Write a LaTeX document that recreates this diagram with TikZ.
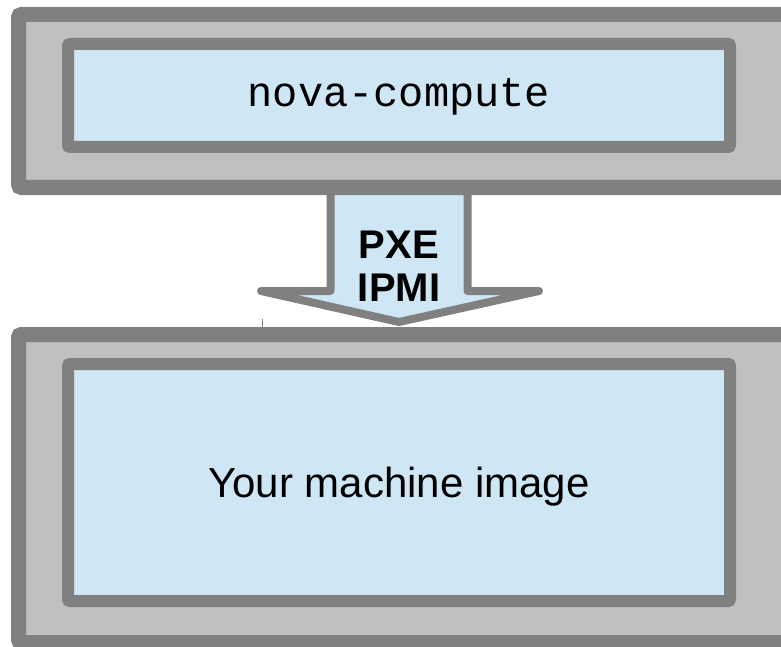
\documentclass[tikz,border=0pt]{standalone}
\usepackage{fontspec}
\setmainfont{Liberation Sans}
\setmonofont{Liberation Mono}
\usetikzlibrary{calc}
\definecolor{framegray}{HTML}{808080}
\definecolor{panelgray}{HTML}{C0C0C0}
\definecolor{paleblue}{HTML}{CFE6F4}

\begin{document}
\begin{tikzpicture}[x=1pt, y=-1pt,
    outerbox/.style={draw=framegray, fill=panelgray, line width=15pt, rounded corners=3pt, minimum width=771.5pt, inner sep=0pt},
    innerbox/.style={draw=framegray, fill=paleblue, line width=12pt, rounded corners=2pt, minimum width=662pt, inner sep=0pt, text depth=0pt},
    blockarrow/.style={draw=framegray, fill=paleblue, line width=8pt, line join=round}]
    \useasboundingbox (0,0) rectangle (781,647);

    \node[outerbox, minimum height=173pt] (top) at (404.25,101) {};
    \node[innerbox, minimum height=103pt, text height=23pt, font=\ttfamily\fontsize{42}{48}\selectfont] (nova) at (399,95.5) {nova-compute};

    \node[outerbox, minimum height=308pt] (bottom) at (404.25,488.5) {};
    \node[innerbox, minimum height=237pt, text height=29pt, font=\fontsize{42}{48}\selectfont] (image) at (399,482.5) {Your machine image};

    \coordinate (shafttop) at (nova |- top.south);
    \coordinate (tip) at (nova |- bottom.north);
    \draw[blockarrow] ($(shafttop)+(-68.5,-4)$) -- ($(shafttop)+(-68.5,96)$) -- ($(shafttop)+(-138,96)$)
        -- ($(tip)+(0,-5)$) -- ($(shafttop)+(140,96)$) -- ($(shafttop)+(68.5,96)$) -- ($(shafttop)+(68.5,-4)$) -- cycle;
    \node[font=\bfseries\fontsize{40}{43}\selectfont, align=center, inner sep=0pt] (proto) at ($(shafttop)+(0,71)$) {PXE\\IPMI};

    \draw[framegray, line width=0.6pt] (262,319) -- (262,331);
\end{tikzpicture}
\end{document}
